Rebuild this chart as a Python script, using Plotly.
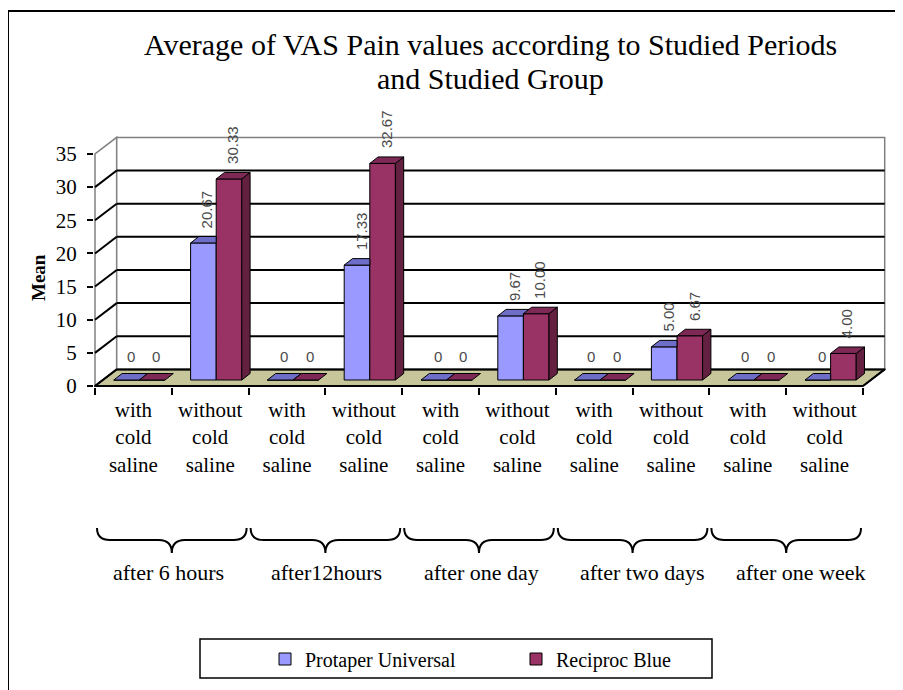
import plotly.graph_objects as go

# ---------------- data ----------------
categories = ["with<br>cold<br>saline", "without<br>cold<br>saline"] * 5
periods = ["after 6 hours", "after12hours", "after one day", "after two days", "after one week"]
protaper = [0, 20.67, 0, 17.33, 0, 9.67, 0, 5.00, 0, 0]
reciproc = [0, 30.33, 0, 32.67, 0, 10.00, 0, 6.67, 0, 4.00]
series_names = ["Protaper Universal", "Reciproc Blue"]
y_ticks = [0, 5, 10, 15, 20, 25, 30, 35]
title_lines = ["Average of VAS Pain values according to Studied Periods", "and Studied Group"]
y_title = "Mean"

# ---------------- geometry / style ----------------
W, H = 903, 690
OFF = 8                   # page body margin
ML, PR = 94, 886          # plot area left/right (page px)
PT, PB = 134, 387         # plot area top/bottom (page px)
CAT_PX = 76.8             # px per category
UNIT_PX = 6.629           # px per value unit
X0_PX, Y0_PX = 95, 386    # front plane origin (x=-0.5, y=0)

xmin = -0.5 - (X0_PX - ML) / CAT_PX
xmax = xmin + (PR - ML) / CAT_PX
ymin = -(PB - Y0_PX) / UNIT_PX
ymax = ymin + (PB - PT) / UNIT_PX

BX, BY = 21.7 / CAT_PX, 16.6 / UNIT_PX   # back wall depth offset
FX, FY = 6.0 / CAT_PX, 6.0 / UNIT_PX     # bar plane offset
DX, DY = 8.3 / CAT_PX, 6.5 / UNIT_PX     # bar depth
BW = 1 / 3                               # bar width

YMAX_AX = y_ticks[-1]
N = len(categories)
XL, XR = -0.5, N - 0.5

SERIF = "Liberation Serif, Times New Roman, serif"
SANS = "Liberation Sans, Arial, sans-serif"

BLUE, BLUE_TOP = "#9999FF", "#6E6EC8"
RED, RED_TOP, RED_SIDE = "#993366", "#7D2855", "#642041"
FLOOR = "#C6C69A"
GRAY = "#808080"


def ppx(px):
    return (px - ML) / (PR - ML)


def ppy(py):
    return (PB - py) / (PB - PT)


fig = go.Figure()

# front faces (bars)
for vals, name, col, off in [(protaper, series_names[0], BLUE, -BW), (reciproc, series_names[1], RED, 0)]:
    fig.add_trace(go.Bar(
        x=[i + FX for i in range(N)], y=vals, base=FY, width=BW, offset=off,
        name=name, marker=dict(color=col, line=dict(color="black", width=1)),
        hoverinfo="skip"))

# top / side faces
bt_x, bt_y, bs_x, bs_y = [], [], [], []
rt_x, rt_y, rs_x, rs_y = [], [], [], []


def add_poly(xs, ys, poly):
    for a, b_ in poly + [poly[0]]:
        xs.append(a); ys.append(b_)
    xs.append(None); ys.append(None)


for i in range(N):
    c = i + FX
    b = FY
    # blue
    xl, xr = c - BW, c
    t = b + protaper[i]
    r_top = b + reciproc[i]
    if r_top >= t + DY:
        poly = [(xl, t), (xr, t), (xr, t + DY), (xl + DX, t + DY)]
    elif r_top > t:
        xm = xr + DX * (r_top - t) / DY
        poly = [(xl, t), (xr, t), (xr, r_top), (xm, r_top), (xr + DX, t + DY), (xl + DX, t + DY)]
    else:
        poly = [(xl, t), (xr, t), (xr + DX, t + DY), (xl + DX, t + DY)]
    add_poly(bt_x, bt_y, poly)
    if protaper[i] > reciproc[i]:
        lo = max(r_top, b)
        add_poly(bs_x, bs_y, [(xr, lo), (xr, t), (xr + DX, t + DY), (xr + DX, lo + DY)])
    # red
    xl, xr = c, c + BW
    t = r_top
    if reciproc[i] > 0:
        add_poly(rs_x, rs_y, [(xr, b), (xr + DX, b + DY), (xr + DX, t + DY), (xr, t)])
    add_poly(rt_x, rt_y, [(xl, t), (xr, t), (xr + DX, t + DY), (xl + DX, t + DY)])

for xs, ys, col in [(bs_x, bs_y, "#5C5CA8"), (bt_x, bt_y, BLUE_TOP), (rs_x, rs_y, RED_SIDE), (rt_x, rt_y, RED_TOP)]:
    if xs:
        fig.add_trace(go.Scatter(x=xs, y=ys, mode="lines", fill="toself", fillcolor=col,
                                 line=dict(color="black", width=1), showlegend=False,
                                 hoverinfo="skip"))

# ---------------- walls, floor, gridlines ----------------
shapes = []
shapes.append(dict(type="path", xref="x", yref="y", layer="below",
                   path=f"M{XL},0 L{XL+BX},{BY} L{XL+BX},{YMAX_AX+BY} L{XL},{YMAX_AX} Z",
                   fillcolor="white", line=dict(color=GRAY, width=1.5)))
shapes.append(dict(type="rect", xref="x", yref="y", layer="below",
                   x0=XL + BX, x1=XR + BX, y0=BY, y1=YMAX_AX + BY,
                   fillcolor="white", line=dict(color=GRAY, width=1.5)))
shapes.append(dict(type="path", xref="x", yref="y", layer="below",
                   path=f"M{XL},0 L{XR},0 L{XR+BX},{BY} L{XL+BX},{BY} Z",
                   fillcolor=FLOOR, line=dict(color="black", width=1.5)))
for v in y_ticks[:-1]:
    shapes.append(dict(type="line", xref="x", yref="y", layer="below",
                       x0=XL + BX, x1=XR + BX, y0=v + BY, y1=v + BY,
                       line=dict(color="black", width=2)))
    shapes.append(dict(type="line", xref="x", yref="y", layer="below",
                       x0=XL, x1=XL + BX, y0=v, y1=v + BY,
                       line=dict(color="black", width=2)))
shapes.append(dict(type="line", xref="x", yref="y", layer="below",
                   x0=XL, x1=XR, y0=0, y1=0, line=dict(color="black", width=2)))
shapes.append(dict(type="line", xref="x", yref="y", layer="below",
                   x0=XR, x1=XR + BX, y0=0, y1=BY, line=dict(color="black", width=2)))

# braces under the period groups
BR_TOP, BR_MID, BR_TIP = ppy(528), ppy(540), ppy(553)
R = 13 / CAT_PX
INSET = 2 / CAT_PX
for g in range(len(periods)):
    x0 = 2 * g - 0.5 + INSET
    x1 = 2 * g + 1.5 - INSET
    xc = 2 * g + 0.5
    path = (f"M{x0},{BR_TOP} Q{x0},{BR_MID} {x0+R},{BR_MID} L{xc-R},{BR_MID} "
            f"Q{xc},{BR_MID} {xc},{BR_TIP} Q{xc},{BR_MID} {xc+R},{BR_MID} "
            f"L{x1-R},{BR_MID} Q{x1},{BR_MID} {x1},{BR_TOP}")
    shapes.append(dict(type="path", xref="x", yref="paper", path=path,
                       line=dict(color="black", width=2)))

# legend box
shapes.append(dict(type="rect", xref="paper", yref="paper",
                   x0=ppx(200), x1=ppx(712), y0=ppy(639), y1=ppy(678),
                   line=dict(color="black", width=1.5)))
# outer border
shapes.append(dict(type="rect", xref="paper", yref="paper",
                   x0=ppx(OFF), x1=ppx(915), y0=ppy(11), y1=ppy(705),
                   line=dict(color="black", width=2)))

# ---------------- annotations ----------------
annotations = []
for vals, off in [(protaper, -BW / 2), (reciproc, BW / 2)]:
    for i, v in enumerate(vals):
        txt = f"{v:.2f}" if v else "0"
        annotations.append(dict(
            x=i + FX + off, y=FY + v, xref="x", yref="y", text=txt,
            textangle=-90 if v else 0, showarrow=False,
            xanchor="center", yanchor="bottom", xshift=4, yshift=13,
            font=dict(family=SANS, size=15, color="#4a4a4a")))

label_shift = [-3, 1, 2, 10, 14]
for g, p in enumerate(periods):
    annotations.append(dict(x=2 * g + 0.5, y=ppy(572), xref="x", yref="paper", text=p,
                            showarrow=False, xanchor="center", yanchor="middle",
                            xshift=label_shift[g],
                            font=dict(family=SERIF, size=22, color="black")))

annotations.append(dict(x=ppx(38), y=ppy(278), xref="paper", yref="paper", text=f"<b>{y_title}</b>",
                        textangle=-90, showarrow=False, xanchor="center", yanchor="middle",
                        font=dict(family=SERIF, size=19, color="black")))

for k, (line, ypx) in enumerate(zip(title_lines, [44, 79])):
    annotations.append(dict(x=ppx(490), y=ppy(ypx), xref="paper", yref="paper", text=line,
                            showarrow=False, xanchor="center", yanchor="middle",
                            font=dict(family=SERIF, size=30, color="black")))

fig.update_layout(
    width=W, height=H,
    margin=dict(l=ML - OFF, r=W - (PR - OFF), t=PT - OFF, b=H - (PB - OFF), pad=0),
    paper_bgcolor="white", plot_bgcolor="rgba(0,0,0,0)",
    barmode="overlay",
    xaxis=dict(range=[xmin, xmax], tickmode="array", tickvals=list(range(N)), ticktext=categories,
               ticks="", showgrid=False, zeroline=False, showline=False,
               ticklabelstandoff=8,
               tickfont=dict(family=SERIF, size=21, color="black"),
               minor=dict(tickmode="array", tickvals=[k - 0.5 for k in range(N + 1)], ticks="outside",
                          ticklen=7, tickwidth=1.5, tickcolor="black", showgrid=False),
               fixedrange=True),
    yaxis=dict(range=[ymin, ymax], tickmode="array", tickvals=y_ticks, ticktext=[str(t) for t in y_ticks],
               ticks="outside", ticklen=6, tickwidth=1.5, tickcolor="black",
               showgrid=False, zeroline=False, showline=False, ticklabelstandoff=6,
               tickfont=dict(family=SERIF, size=21, color="black"), fixedrange=True),
    legend=dict(orientation="h", x=ppx(265), xanchor="left", y=ppy(659), yanchor="middle",
                font=dict(family=SERIF, size=20, color="black"), bgcolor="rgba(0,0,0,0)",
                entrywidth=206, itemwidth=30, traceorder="normal"),
    shapes=shapes, annotations=annotations,
    showlegend=True,
)

fig.write_html("out.html")
